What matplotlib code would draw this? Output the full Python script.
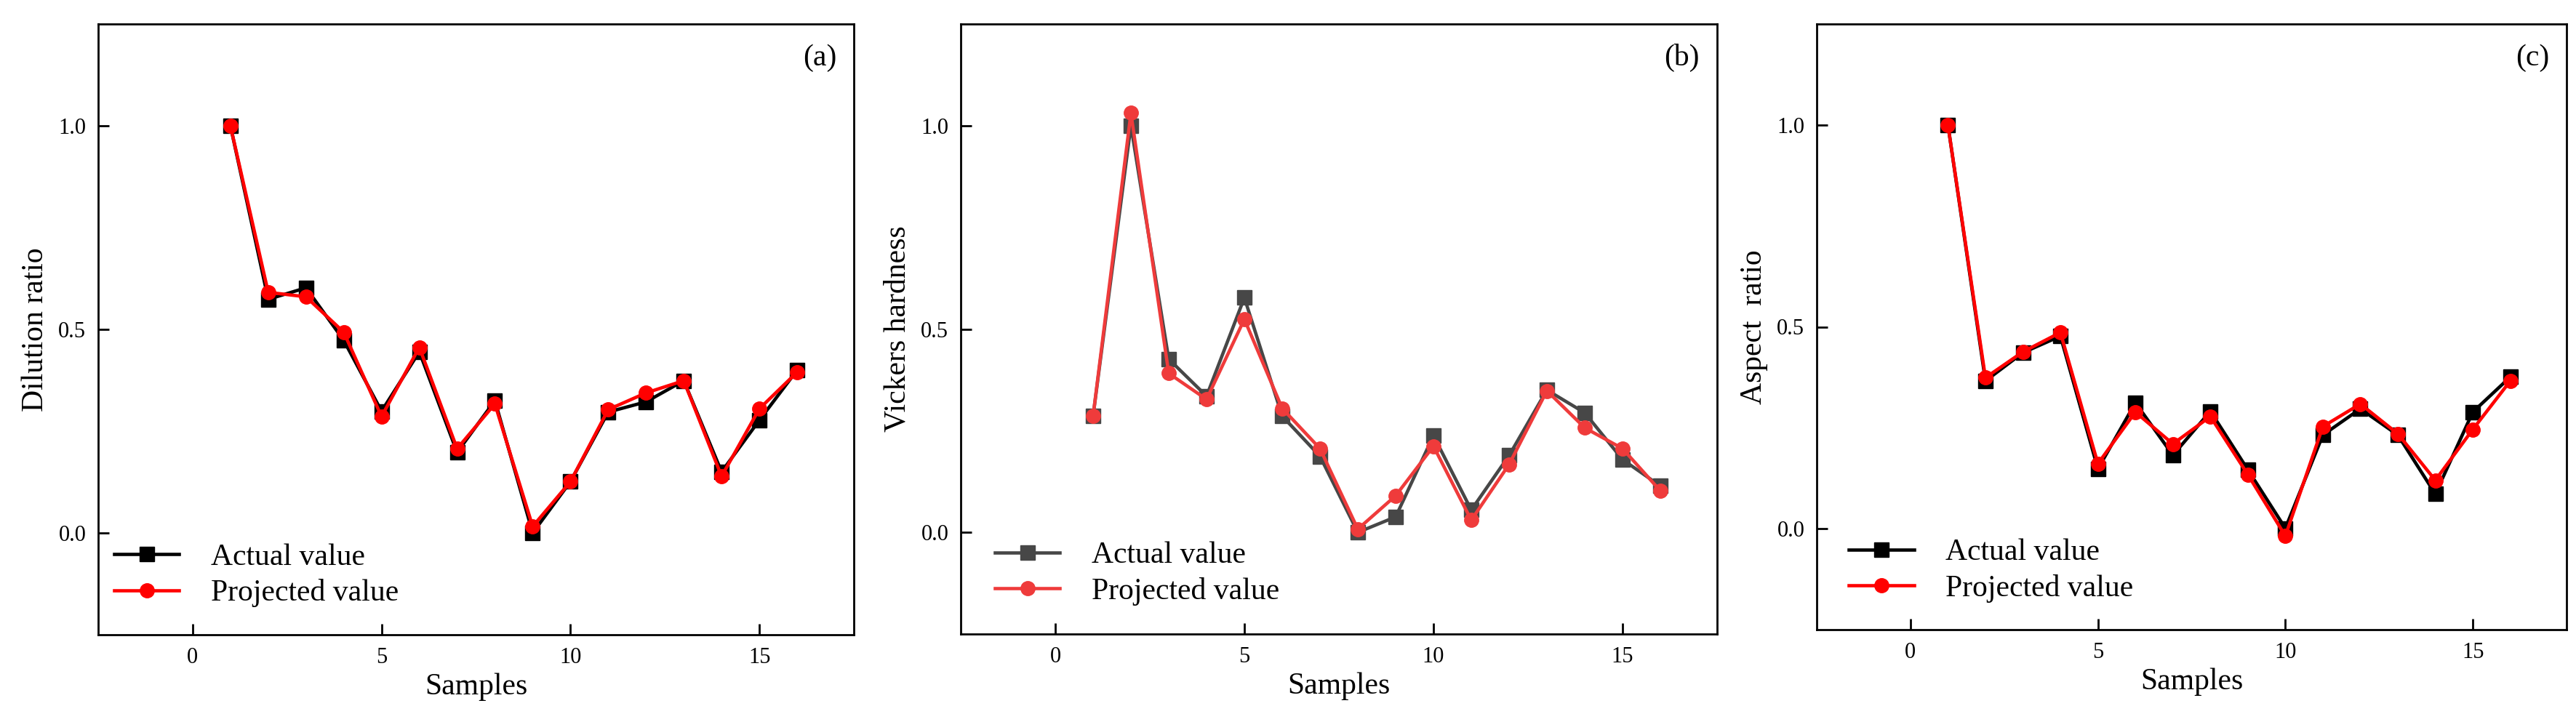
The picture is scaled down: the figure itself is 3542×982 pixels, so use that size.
import matplotlib
matplotlib.use("Agg")
import matplotlib.pyplot as plt

plt.rcParams['font.family'] = ['Liberation Serif', 'DejaVu Serif']

samples = [1, 2, 3, 4, 5, 6, 7, 8, 9, 10, 11, 12, 13, 14, 15, 16]

# (a) dilution ratio
dil_actual = [1.0, 0.574, 0.602, 0.473, 0.299, 0.445, 0.198, 0.325,
              0.0, 0.126, 0.297, 0.322, 0.374, 0.150, 0.277, 0.400]
dil_proj = [1.0, 0.591, 0.580, 0.493, 0.286, 0.456, 0.207, 0.317,
            0.016, 0.126, 0.303, 0.344, 0.374, 0.139, 0.305, 0.395]

# (b) vickers hardness
hv_actual = [0.286, 1.0, 0.426, 0.335, 0.577, 0.286, 0.187, 0.0,
             0.038, 0.238, 0.055, 0.189, 0.350, 0.294, 0.179, 0.114]
hv_proj = [0.286, 1.031, 0.391, 0.327, 0.524, 0.305, 0.206, 0.008,
           0.090, 0.212, 0.030, 0.167, 0.348, 0.257, 0.206, 0.102]

# (c) aspect ratio
ar_actual = [1.0, 0.366, 0.436, 0.477, 0.148, 0.312, 0.182, 0.291,
             0.146, 0.001, 0.232, 0.297, 0.232, 0.086, 0.289, 0.376]
ar_proj = [1.0, 0.374, 0.438, 0.486, 0.161, 0.289, 0.210, 0.278,
           0.134, -0.018, 0.253, 0.309, 0.235, 0.120, 0.246, 0.366]

panels = [
    ("Dilution ratio", "(a)", dil_actual, dil_proj, "#000000", "#ff0000",
     [135 / 3542, 1 - 873 / 982, 1039 / 3542, 840 / 982], (-0.007, 0.01)),
    ("Vickers hardness", "(b)", hv_actual, hv_proj, "#474747", "#ef3b3b",
     [1321 / 3542, 1 - 872 / 982, 1040 / 3542, 839 / 982], (0.017, 0.012)),
    ("Aspect  ratio", "(c)", ar_actual, ar_proj, "#000000", "#ff0000",
     [2498 / 3542, 1 - 866 / 982, 1031 / 3542, 833 / 982], (0.0145, 0.01)),
]

fig = plt.figure(figsize=(35.42, 9.82), dpi=100)

for ylab, tag, actual, proj, c1, c2, pos, leg_xy in panels:
    ax = fig.add_axes(pos)
    ax.plot(samples, actual, color=c1, lw=3.3, marker='s', ms=14,
            mec=c1, mfc=c1, label="Actual value", zorder=3)
    ax.plot(samples, proj, color=c2, lw=3.3, marker='o', ms=14,
            mec=c2, mfc=c2, label="Projected value", zorder=4)
    ax.set_xlim(-2.5, 17.5)
    ax.set_ylim(-0.25, 1.25)
    ax.set_xticks([0, 5, 10, 15])
    ax.set_yticks([0.0, 0.5, 1.0])
    ax.set_yticklabels(["0.0", "0.5", "1.0"])
    ax.tick_params(direction='in', length=11, width=2, labelsize=22, pad=12,
                   top=False, right=False)
    for sp in ax.spines.values():
        sp.set_linewidth(2)
    ax.set_xlabel("Samples", fontsize=30, labelpad=5)
    ax.set_ylabel(ylab, fontsize=30, labelpad=9)
    ax.text(0.977, 0.944, tag, transform=ax.transAxes, ha='right', va='center',
            fontsize=30)
    ax.legend(loc='lower left', bbox_to_anchor=leg_xy, frameon=False,
              fontsize=30, handlelength=2.15, handletextpad=1.05,
              labelspacing=0.25, borderaxespad=0.4, borderpad=0.3)

fig.savefig("out.png", dpi=100)
